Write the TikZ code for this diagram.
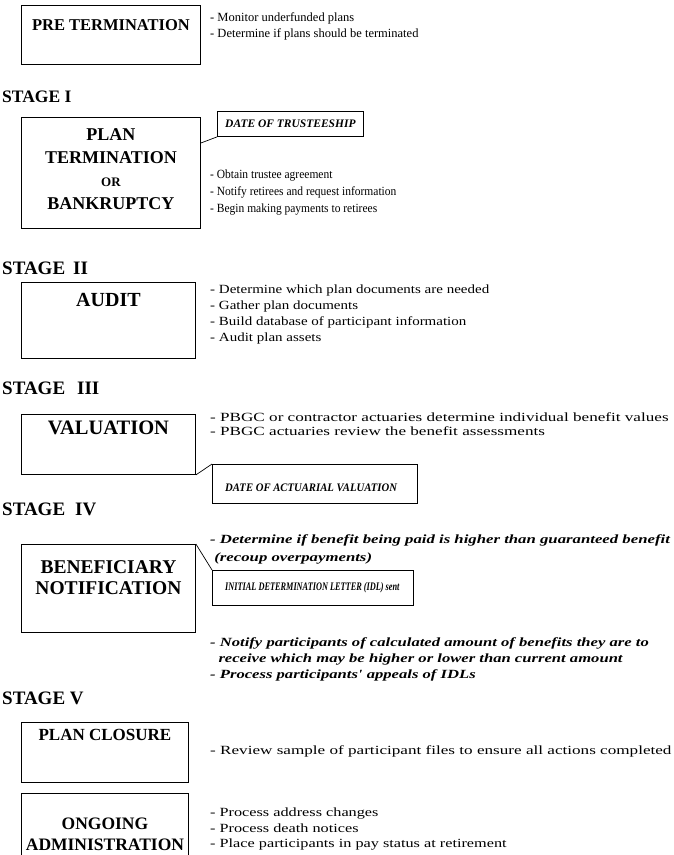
\documentclass[tikz,border=0pt]{standalone}
\usepackage{fontspec}
\setmainfont{Liberation Serif}
\usetikzlibrary{positioning}
\newcommand\stretchfont[1]{\fontspec[FakeStretch=#1]{Liberation Serif}}

\begin{document}
\begin{tikzpicture}[x=1pt, y=-1pt,
    stagebox/.style = {draw, line width=0.9pt, anchor=north west, inner sep=0pt},
    datetext/.style = {font={\stretchfont{#1}\fontsize{11.5}{14}\selectfont\bfseries\itshape}, anchor=west, inner sep=0pt},
    title/.style    = {font={\fontsize{18}{21}\selectfont\bfseries}, align=center},
    stagelabel/.style = {font={\fontsize{19}{22}\selectfont\bfseries}, anchor=west, inner sep=0pt},
    item/.style     = {font={\stretchfont{#1}\fontsize{12.5}{16}\selectfont}, align=left, anchor=north west, inner sep=0pt},
    itemit/.style   = {font={\stretchfont{#1}\fontsize{12.5}{16}\selectfont\bfseries\itshape}, align=left, anchor=north west, inner sep=0pt}]
    \useasboundingbox (0,0) rectangle (674,855);
    \clip (0,0) rectangle (674,855);

    % pre termination
    \node[stagebox, minimum width=179pt, minimum height=59pt] (pre) at (21,5) {};
    \node[title, font={\fontsize{16.5}{19}\selectfont\bfseries}] (pret) at ([yshift=-20pt]pre.north) {PRE TERMINATION};
    \node[item=1] (prei) at (210,12) {- Monitor underfunded plans\\- Determine if plans should be terminated};

    % stage I
    \node[stagelabel, font={\fontsize{17.5}{22}\selectfont\bfseries}] (s1) at (2,97) {STAGE I};
    \node[stagebox, minimum width=179pt, minimum height=111pt] (plan) at (21,117) {};
    \node[title, font={\fontsize{18}{23}\selectfont\bfseries}] (plant) at ([yshift=-52pt]plan.north)
        {PLAN\\TERMINATION\\{\fontsize{13}{15}\selectfont OR}\\BANKRUPTCY};
    \node[stagebox, minimum width=146pt, minimum height=25pt] (trust) at (217,111) {};
    \node[datetext=1] (trustt) at ([xshift=8pt]trust.west) {DATE OF TRUSTEESHIP};
    \draw[line width=0.7pt] ([yshift=-26pt]plan.north east) -- (trust.south west);
    \node[item=0.92, font={\stretchfont{0.92}\fontsize{12.5}{17}\selectfont}] (plani) at (210,170)
        {- Obtain trustee agreement\\- Notify retirees and request information\\- Begin making payments to retirees};

    % stage II
    \node[stagelabel] (s2) at (2,268) {STAGE\hspace{8pt}II};
    \node[stagebox, minimum width=174pt, minimum height=76pt] (aud) at (21,282) {};
    \node[title, font={\fontsize{20}{23}\selectfont\bfseries}] (audt) at ([yshift=-18pt]aud.north) {AUDIT};
    \node[item=1.2] (audi) at (210,285) {- Determine which plan documents are needed\\- Gather plan documents\\- Build database of participant information\\- Audit plan assets};

    % stage III
    \node[stagelabel] (s3) at (2,388) {STAGE\hspace{12pt}III};
    \node[stagebox, minimum width=174pt, minimum height=60pt] (val) at (21,414) {};
    \node[title, font={\fontsize{20.5}{23}\selectfont\bfseries}] (valt) at ([yshift=-14pt]val.north) {VALUATION};
    \node[item=1.37, font={\stretchfont{1.37}\fontsize{12.5}{14.5}\selectfont}] (vali) at (210,412)
        {- PBGC or contractor actuaries determine individual benefit values\\- PBGC actuaries review the benefit assessments};
    \node[stagebox, minimum width=205pt, minimum height=39pt] (act) at (212,464) {};
    \node[datetext=0.93] (actt) at ([xshift=13pt, yshift=-4pt]act.west) {DATE OF ACTUARIAL VALUATION};
    \draw[line width=0.7pt] (val.south east) -- (act.north west);

    % stage IV
    \node[stagelabel] (s4) at (2,509) {STAGE\hspace{10pt}IV};
    \node[stagebox, minimum width=174pt, minimum height=88pt] (ben) at (21,544) {};
    \node[title, font={\fontsize{19.5}{21}\selectfont\bfseries}] (bent) at ([yshift=-34pt]ben.north) {BENEFICIARY\\NOTIFICATION};
    \node[itemit=1.34, font={\stretchfont{1.34}\fontsize{12.5}{18}\selectfont\bfseries\itshape}] (beni) at (210,534)
        {- Determine if benefit being paid is higher than guaranteed benefit\\\ (recoup overpayments)};
    \node[stagebox, minimum width=201pt, minimum height=35pt] (idl) at (212,570) {};
    \node[datetext=0.72] (idlt) at ([xshift=13pt]idl.west) {INITIAL DETERMINATION LETTER (IDL) sent};
    \draw[line width=0.7pt] (ben.north east) -- (idl.north west);
    \node[itemit=1.33] (benj) at (210,637) {- Notify participants of calculated amount of benefits they are to\\\ \ receive which may be higher or lower than current amount\\- Process participants' appeals of IDLs};

    % stage V
    \node[stagelabel] (s5) at (2,698) {STAGE V};
    \node[stagebox, minimum width=167pt, minimum height=60pt] (clo) at (21,722) {};
    \node[title, font={\fontsize{17}{21}\selectfont\bfseries}] (clot) at ([yshift=-13pt]clo.north) {PLAN CLOSURE};
    \node[item=1.37] (cloi) at (210,745) {- Review sample of participant files to ensure all actions completed};
    \node[stagebox, minimum width=167pt, minimum height=80pt] (ong) at (21,793) {};
    \node[title, font={\fontsize{17.5}{21}\selectfont\bfseries}] (ongt) at ([yshift=-41pt]ong.north) {ONGOING\\ADMINISTRATION};
    \node[item=1.3, font={\stretchfont{1.3}\fontsize{12.5}{15.5}\selectfont}] (ongi) at (210,808)
        {- Process address changes\\- Process death notices\\- Place participants in pay status at retirement};
\end{tikzpicture}
\end{document}
